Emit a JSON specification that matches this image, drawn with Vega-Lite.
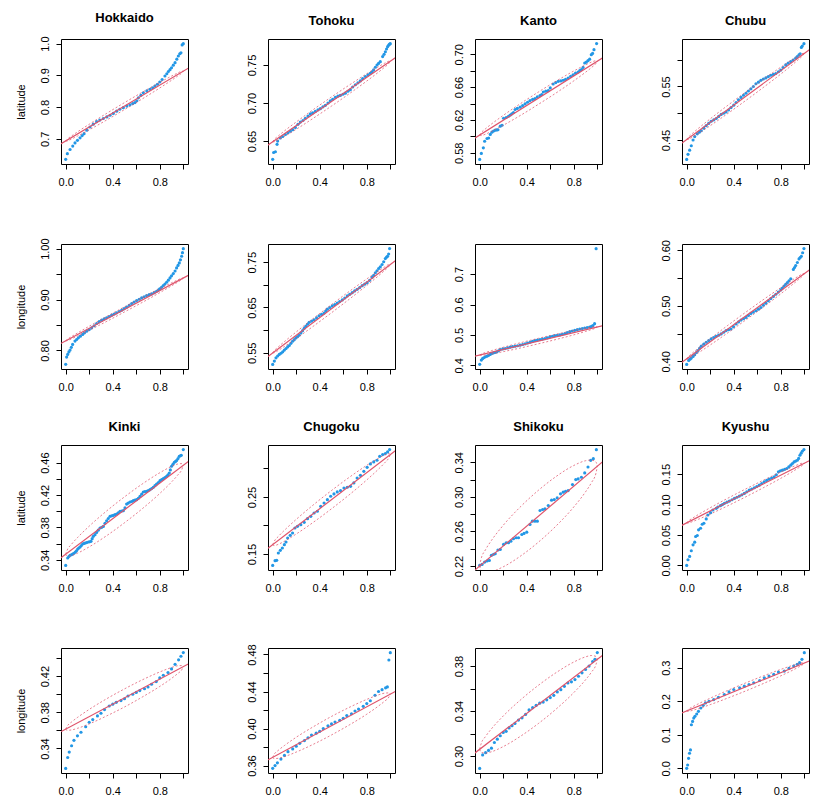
{
"$schema":"https://vega.github.io/schema/vega-lite/v6.json",
"padding":{"left":14,"top":11,"right":5,"bottom":5},
"spacing":27,
"datasets":{
"fit":[
{"g":1,"p":-0.05,"v":0.682,"p2":1.05,"v2":0.924},
{"g":2,"p":-0.05,"v":0.6439,"p2":1.05,"v2":0.7601},
{"g":3,"p":-0.05,"v":0.597,"p2":1.05,"v2":0.6961},
{"g":4,"p":-0.05,"v":0.4429,"p2":1.05,"v2":0.6198},
{"g":5,"p":-0.05,"v":0.8127,"p2":1.05,"v2":0.9484},
{"g":6,"p":-0.05,"v":0.5401,"p2":1.05,"v2":0.7547},
{"g":7,"p":-0.05,"v":0.4292,"p2":1.05,"v2":0.5307},
{"g":8,"p":-0.05,"v":0.3968,"p2":1.05,"v2":0.5656},
{"g":9,"p":-0.05,"v":0.3412,"p2":1.05,"v2":0.4622},
{"g":10,"p":-0.05,"v":0.1584,"p2":1.05,"v2":0.3322},
{"g":11,"p":-0.05,"v":0.2143,"p2":1.05,"v2":0.3411},
{"g":12,"p":-0.05,"v":0.0651,"p2":1.05,"v2":0.1729},
{"g":13,"p":-0.05,"v":0.3579,"p2":1.05,"v2":0.4339},
{"g":14,"p":-0.05,"v":0.3655,"p2":1.05,"v2":0.4406},
{"g":15,"p":-0.05,"v":0.302,"p2":1.05,"v2":0.39},
{"g":16,"p":-0.05,"v":0.1638,"p2":1.05,"v2":0.3212}
],
"band":[
{"g":1,"p":0,"lo":0.693,"hi":0.693},{"g":1,"p":0.01,"lo":0.693,"hi":0.6974},{"g":1,"p":0.05,"lo":0.6992,"hi":0.7088},{"g":1,"p":0.1,"lo":0.7084,"hi":0.7216},{"g":1,"p":0.2,"lo":0.7282,"hi":0.7458},{"g":1,"p":0.35,"lo":0.7595,"hi":0.7805},{"g":1,"p":0.5,"lo":0.792,"hi":0.814},{"g":1,"p":0.65,"lo":0.8255,"hi":0.8465},{"g":1,"p":0.8,"lo":0.8602,"hi":0.8778},{"g":1,"p":0.9,"lo":0.8844,"hi":0.8976},{"g":1,"p":0.95,"lo":0.8972,"hi":0.9068},{"g":1,"p":0.99,"lo":0.9086,"hi":0.913},{"g":1,"p":1,"lo":0.913,"hi":0.913},
{"g":2,"p":0,"lo":0.6492,"hi":0.6492},{"g":2,"p":0.01,"lo":0.6491,"hi":0.6515},{"g":2,"p":0.05,"lo":0.6519,"hi":0.6571},{"g":2,"p":0.1,"lo":0.6562,"hi":0.6634},{"g":2,"p":0.2,"lo":0.6655,"hi":0.6751},{"g":2,"p":0.35,"lo":0.6805,"hi":0.6919},{"g":2,"p":0.5,"lo":0.696,"hi":0.708},{"g":2,"p":0.65,"lo":0.7121,"hi":0.7235},{"g":2,"p":0.8,"lo":0.7289,"hi":0.7385},{"g":2,"p":0.9,"lo":0.7406,"hi":0.7478},{"g":2,"p":0.95,"lo":0.7469,"hi":0.7521},{"g":2,"p":0.99,"lo":0.7525,"hi":0.7549},{"g":2,"p":1,"lo":0.7548,"hi":0.7548},
{"g":3,"p":0,"lo":0.6015,"hi":0.6015},{"g":3,"p":0.01,"lo":0.6009,"hi":0.6039},{"g":3,"p":0.05,"lo":0.6027,"hi":0.6093},{"g":3,"p":0.1,"lo":0.606,"hi":0.615},{"g":3,"p":0.2,"lo":0.6135,"hi":0.6255},{"g":3,"p":0.35,"lo":0.6258,"hi":0.6402},{"g":3,"p":0.5,"lo":0.6391,"hi":0.6541},{"g":3,"p":0.65,"lo":0.6529,"hi":0.6673},{"g":3,"p":0.8,"lo":0.6676,"hi":0.6796},{"g":3,"p":0.9,"lo":0.6781,"hi":0.6871},{"g":3,"p":0.95,"lo":0.6838,"hi":0.6904},{"g":3,"p":0.99,"lo":0.6892,"hi":0.6922},{"g":3,"p":1,"lo":0.6916,"hi":0.6916},
{"g":4,"p":0,"lo":0.4509,"hi":0.4509},{"g":4,"p":0.01,"lo":0.4509,"hi":0.4541},{"g":4,"p":0.05,"lo":0.4555,"hi":0.4625},{"g":4,"p":0.1,"lo":0.4622,"hi":0.4718},{"g":4,"p":0.2,"lo":0.4767,"hi":0.4895},{"g":4,"p":0.35,"lo":0.4996,"hi":0.5148},{"g":4,"p":0.5,"lo":0.5234,"hi":0.5394},{"g":4,"p":0.65,"lo":0.5479,"hi":0.5631},{"g":4,"p":0.8,"lo":0.5732,"hi":0.586},{"g":4,"p":0.9,"lo":0.5909,"hi":0.6005},{"g":4,"p":0.95,"lo":0.6003,"hi":0.6073},{"g":4,"p":0.99,"lo":0.6086,"hi":0.6118},{"g":4,"p":1,"lo":0.6118,"hi":0.6118},
{"g":5,"p":0,"lo":0.8189,"hi":0.8189},{"g":5,"p":0.01,"lo":0.8191,"hi":0.8211},{"g":5,"p":0.05,"lo":0.8229,"hi":0.8273},{"g":5,"p":0.1,"lo":0.8282,"hi":0.8342},{"g":5,"p":0.2,"lo":0.8396,"hi":0.8476},{"g":5,"p":0.35,"lo":0.8572,"hi":0.8668},{"g":5,"p":0.5,"lo":0.8756,"hi":0.8856},{"g":5,"p":0.65,"lo":0.8942,"hi":0.9038},{"g":5,"p":0.8,"lo":0.9135,"hi":0.9215},{"g":5,"p":0.9,"lo":0.9269,"hi":0.9329},{"g":5,"p":0.95,"lo":0.9338,"hi":0.9382},{"g":5,"p":0.99,"lo":0.94,"hi":0.942},{"g":5,"p":1,"lo":0.9422,"hi":0.9422},
{"g":6,"p":0,"lo":0.5499,"hi":0.5499},{"g":6,"p":0.01,"lo":0.5501,"hi":0.5537},{"g":6,"p":0.05,"lo":0.5558,"hi":0.5636},{"g":6,"p":0.1,"lo":0.564,"hi":0.5748},{"g":6,"p":0.2,"lo":0.5817,"hi":0.5961},{"g":6,"p":0.35,"lo":0.6096,"hi":0.6268},{"g":6,"p":0.5,"lo":0.6384,"hi":0.6564},{"g":6,"p":0.65,"lo":0.6681,"hi":0.6853},{"g":6,"p":0.8,"lo":0.6987,"hi":0.7131},{"g":6,"p":0.9,"lo":0.72,"hi":0.7308},{"g":6,"p":0.95,"lo":0.7313,"hi":0.7391},{"g":6,"p":0.99,"lo":0.7412,"hi":0.7448},{"g":6,"p":1,"lo":0.7449,"hi":0.7449},
{"g":7,"p":0,"lo":0.4338,"hi":0.4338},{"g":7,"p":0.01,"lo":0.4329,"hi":0.4365},{"g":7,"p":0.05,"lo":0.4345,"hi":0.4423},{"g":7,"p":0.1,"lo":0.4376,"hi":0.4484},{"g":7,"p":0.2,"lo":0.4451,"hi":0.4595},{"g":7,"p":0.35,"lo":0.4575,"hi":0.4747},{"g":7,"p":0.5,"lo":0.471,"hi":0.489},{"g":7,"p":0.65,"lo":0.4852,"hi":0.5024},{"g":7,"p":0.8,"lo":0.5004,"hi":0.5148},{"g":7,"p":0.9,"lo":0.5115,"hi":0.5223},{"g":7,"p":0.95,"lo":0.5176,"hi":0.5254},{"g":7,"p":0.99,"lo":0.5234,"hi":0.527},{"g":7,"p":1,"lo":0.5261,"hi":0.5261},
{"g":8,"p":0,"lo":0.4045,"hi":0.4045},{"g":8,"p":0.01,"lo":0.4046,"hi":0.4074},{"g":8,"p":0.05,"lo":0.4091,"hi":0.4153},{"g":8,"p":0.1,"lo":0.4156,"hi":0.424},{"g":8,"p":0.2,"lo":0.4296,"hi":0.4408},{"g":8,"p":0.35,"lo":0.4515,"hi":0.4649},{"g":8,"p":0.5,"lo":0.4742,"hi":0.4882},{"g":8,"p":0.65,"lo":0.4975,"hi":0.5109},{"g":8,"p":0.8,"lo":0.5216,"hi":0.5328},{"g":8,"p":0.9,"lo":0.5384,"hi":0.5468},{"g":8,"p":0.95,"lo":0.5471,"hi":0.5533},{"g":8,"p":0.99,"lo":0.555,"hi":0.5578},{"g":8,"p":1,"lo":0.5579,"hi":0.5579},
{"g":9,"p":0,"lo":0.3467,"hi":0.3467},{"g":9,"p":0.01,"lo":0.3446,"hi":0.351},{"g":9,"p":0.05,"lo":0.3452,"hi":0.3592},{"g":9,"p":0.1,"lo":0.3481,"hi":0.3673},{"g":9,"p":0.2,"lo":0.3559,"hi":0.3815},{"g":9,"p":0.35,"lo":0.3699,"hi":0.4005},{"g":9,"p":0.5,"lo":0.3857,"hi":0.4177},{"g":9,"p":0.65,"lo":0.4029,"hi":0.4335},{"g":9,"p":0.8,"lo":0.4219,"hi":0.4475},{"g":9,"p":0.9,"lo":0.4361,"hi":0.4553},{"g":9,"p":0.95,"lo":0.4442,"hi":0.4582},{"g":9,"p":0.99,"lo":0.4524,"hi":0.4588},{"g":9,"p":1,"lo":0.4567,"hi":0.4567},
{"g":10,"p":0,"lo":0.1663,"hi":0.1663},{"g":10,"p":0.01,"lo":0.1647,"hi":0.1711},{"g":10,"p":0.05,"lo":0.1672,"hi":0.1812},{"g":10,"p":0.1,"lo":0.1725,"hi":0.1917},{"g":10,"p":0.2,"lo":0.1851,"hi":0.2107},{"g":10,"p":0.35,"lo":0.2063,"hi":0.2369},{"g":10,"p":0.5,"lo":0.2293,"hi":0.2613},{"g":10,"p":0.65,"lo":0.2537,"hi":0.2843},{"g":10,"p":0.8,"lo":0.2799,"hi":0.3055},{"g":10,"p":0.9,"lo":0.2989,"hi":0.3181},{"g":10,"p":0.95,"lo":0.3094,"hi":0.3234},{"g":10,"p":0.99,"lo":0.3195,"hi":0.3259},{"g":10,"p":1,"lo":0.3243,"hi":0.3243},
{"g":11,"p":0,"lo":0.2201,"hi":0.2201},{"g":11,"p":0.01,"lo":0.2153,"hi":0.2273},{"g":11,"p":0.05,"lo":0.2128,"hi":0.239},{"g":11,"p":0.1,"lo":0.2136,"hi":0.2496},{"g":11,"p":0.2,"lo":0.2191,"hi":0.2671},{"g":11,"p":0.35,"lo":0.2318,"hi":0.289},{"g":11,"p":0.5,"lo":0.2477,"hi":0.3077},{"g":11,"p":0.65,"lo":0.2664,"hi":0.3236},{"g":11,"p":0.8,"lo":0.2883,"hi":0.3363},{"g":11,"p":0.9,"lo":0.3058,"hi":0.3418},{"g":11,"p":0.95,"lo":0.3164,"hi":0.3426},{"g":11,"p":0.99,"lo":0.3281,"hi":0.3401},{"g":11,"p":1,"lo":0.3353,"hi":0.3353},
{"g":12,"p":0,"lo":0.07,"hi":0.07},{"g":12,"p":0.01,"lo":0.0697,"hi":0.0723},{"g":12,"p":0.05,"lo":0.0721,"hi":0.0777},{"g":12,"p":0.1,"lo":0.0759,"hi":0.0837},{"g":12,"p":0.2,"lo":0.0844,"hi":0.0948},{"g":12,"p":0.35,"lo":0.0981,"hi":0.1105},{"g":12,"p":0.5,"lo":0.1125,"hi":0.1255},{"g":12,"p":0.65,"lo":0.1275,"hi":0.1399},{"g":12,"p":0.8,"lo":0.1432,"hi":0.1536},{"g":12,"p":0.9,"lo":0.1543,"hi":0.1621},{"g":12,"p":0.95,"lo":0.1603,"hi":0.1659},{"g":12,"p":0.99,"lo":0.1657,"hi":0.1683},{"g":12,"p":1,"lo":0.168,"hi":0.168},
{"g":13,"p":0,"lo":0.3614,"hi":0.3614},{"g":13,"p":0.01,"lo":0.3601,"hi":0.3641},{"g":13,"p":0.05,"lo":0.3605,"hi":0.3693},{"g":13,"p":0.1,"lo":0.3623,"hi":0.3743},{"g":13,"p":0.2,"lo":0.3672,"hi":0.3832},{"g":13,"p":0.35,"lo":0.3761,"hi":0.3951},{"g":13,"p":0.5,"lo":0.3859,"hi":0.4059},{"g":13,"p":0.65,"lo":0.3968,"hi":0.4158},{"g":13,"p":0.8,"lo":0.4086,"hi":0.4246},{"g":13,"p":0.9,"lo":0.4175,"hi":0.4295},{"g":13,"p":0.95,"lo":0.4226,"hi":0.4314},{"g":13,"p":0.99,"lo":0.4277,"hi":0.4317},{"g":13,"p":1,"lo":0.4304,"hi":0.4304},
{"g":14,"p":0,"lo":0.3689,"hi":0.3689},{"g":14,"p":0.01,"lo":0.3676,"hi":0.3716},{"g":14,"p":0.05,"lo":0.3679,"hi":0.3767},{"g":14,"p":0.1,"lo":0.3697,"hi":0.3817},{"g":14,"p":0.2,"lo":0.3746,"hi":0.3906},{"g":14,"p":0.35,"lo":0.3833,"hi":0.4023},{"g":14,"p":0.5,"lo":0.3931,"hi":0.4131},{"g":14,"p":0.65,"lo":0.4038,"hi":0.4228},{"g":14,"p":0.8,"lo":0.4155,"hi":0.4315},{"g":14,"p":0.9,"lo":0.4244,"hi":0.4364},{"g":14,"p":0.95,"lo":0.4294,"hi":0.4382},{"g":14,"p":0.99,"lo":0.4345,"hi":0.4385},{"g":14,"p":1,"lo":0.4372,"hi":0.4372},
{"g":15,"p":0,"lo":0.306,"hi":0.306},{"g":15,"p":0.01,"lo":0.3034,"hi":0.3102},{"g":15,"p":0.05,"lo":0.3026,"hi":0.3174},{"g":15,"p":0.1,"lo":0.3038,"hi":0.3242},{"g":15,"p":0.2,"lo":0.3084,"hi":0.3356},{"g":15,"p":0.35,"lo":0.3178,"hi":0.3502},{"g":15,"p":0.5,"lo":0.329,"hi":0.363},{"g":15,"p":0.65,"lo":0.3418,"hi":0.3742},{"g":15,"p":0.8,"lo":0.3564,"hi":0.3836},{"g":15,"p":0.9,"lo":0.3678,"hi":0.3882},{"g":15,"p":0.95,"lo":0.3746,"hi":0.3894},{"g":15,"p":0.99,"lo":0.3818,"hi":0.3886},{"g":15,"p":1,"lo":0.386,"hi":0.386},
{"g":16,"p":0,"lo":0.171,"hi":0.171},{"g":16,"p":0.01,"lo":0.17,"hi":0.1748},{"g":16,"p":0.05,"lo":0.173,"hi":0.1834},{"g":16,"p":0.1,"lo":0.1781,"hi":0.1925},{"g":16,"p":0.2,"lo":0.19,"hi":0.2092},{"g":16,"p":0.35,"lo":0.2097,"hi":0.2325},{"g":16,"p":0.5,"lo":0.2305,"hi":0.2545},{"g":16,"p":0.65,"lo":0.2526,"hi":0.2754},{"g":16,"p":0.8,"lo":0.2758,"hi":0.295},{"g":16,"p":0.9,"lo":0.2925,"hi":0.3069},{"g":16,"p":0.95,"lo":0.3017,"hi":0.3121},{"g":16,"p":0.99,"lo":0.3102,"hi":0.315},{"g":16,"p":1,"lo":0.314,"hi":0.314}
],
"pts":[
{"g":1,"p":0,"v":0.635},{"g":1,"p":0.014,"v":0.653},{"g":1,"p":0.037,"v":0.666},{"g":1,"p":0.06,"v":0.677},{"g":1,"p":0.079,"v":0.687},{"g":1,"p":0.1,"v":0.695},{"g":1,"p":0.122,"v":0.703},{"g":1,"p":0.14,"v":0.71},{"g":1,"p":0.156,"v":0.716},{"g":1,"p":0.18,"v":0.727},{"g":1,"p":0.207,"v":0.737},{"g":1,"p":0.235,"v":0.746},{"g":1,"p":0.263,"v":0.754},{"g":1,"p":0.29,"v":0.759},{"g":1,"p":0.32,"v":0.764},{"g":1,"p":0.35,"v":0.769},{"g":1,"p":0.377,"v":0.774},{"g":1,"p":0.405,"v":0.78},{"g":1,"p":0.433,"v":0.787},{"g":1,"p":0.46,"v":0.793},{"g":1,"p":0.49,"v":0.798},{"g":1,"p":0.52,"v":0.803},{"g":1,"p":0.547,"v":0.807},{"g":1,"p":0.57,"v":0.811},{"g":1,"p":0.589,"v":0.814},{"g":1,"p":0.605,"v":0.82},{"g":1,"p":0.618,"v":0.829},{"g":1,"p":0.64,"v":0.837},{"g":1,"p":0.66,"v":0.845},{"g":1,"p":0.69,"v":0.851},{"g":1,"p":0.717,"v":0.856},{"g":1,"p":0.74,"v":0.861},{"g":1,"p":0.759,"v":0.866},{"g":1,"p":0.78,"v":0.872},{"g":1,"p":0.8,"v":0.879},{"g":1,"p":0.82,"v":0.887},{"g":1,"p":0.844,"v":0.898},{"g":1,"p":0.86,"v":0.905},{"g":1,"p":0.873,"v":0.912},{"g":1,"p":0.887,"v":0.918},{"g":1,"p":0.9,"v":0.924},{"g":1,"p":0.915,"v":0.932},{"g":1,"p":0.93,"v":0.94},{"g":1,"p":0.945,"v":0.951},{"g":1,"p":0.958,"v":0.961},{"g":1,"p":0.97,"v":0.968},{"g":1,"p":0.98,"v":0.971},{"g":1,"p":0.99,"v":0.996},{"g":1,"p":1,"v":1.0},
{"g":2,"p":0,"v":0.626},{"g":2,"p":0.008,"v":0.635},{"g":2,"p":0.023,"v":0.636},{"g":2,"p":0.037,"v":0.6457},{"g":2,"p":0.042,"v":0.65},{"g":2,"p":0.065,"v":0.654},{"g":2,"p":0.085,"v":0.656},{"g":2,"p":0.108,"v":0.6587},{"g":2,"p":0.13,"v":0.661},{"g":2,"p":0.15,"v":0.663},{"g":2,"p":0.17,"v":0.665},{"g":2,"p":0.193,"v":0.668},{"g":2,"p":0.215,"v":0.672},{"g":2,"p":0.235,"v":0.675},{"g":2,"p":0.257,"v":0.677},{"g":2,"p":0.278,"v":0.68},{"g":2,"p":0.3,"v":0.683},{"g":2,"p":0.32,"v":0.6857},{"g":2,"p":0.34,"v":0.687},{"g":2,"p":0.363,"v":0.689},{"g":2,"p":0.385,"v":0.691},{"g":2,"p":0.405,"v":0.6926},{"g":2,"p":0.427,"v":0.695},{"g":2,"p":0.448,"v":0.697},{"g":2,"p":0.47,"v":0.7},{"g":2,"p":0.49,"v":0.703},{"g":2,"p":0.51,"v":0.705},{"g":2,"p":0.533,"v":0.7074},{"g":2,"p":0.555,"v":0.709},{"g":2,"p":0.575,"v":0.71},{"g":2,"p":0.597,"v":0.7115},{"g":2,"p":0.618,"v":0.713},{"g":2,"p":0.64,"v":0.7155},{"g":2,"p":0.66,"v":0.7174},{"g":2,"p":0.68,"v":0.721},{"g":2,"p":0.703,"v":0.724},{"g":2,"p":0.725,"v":0.7265},{"g":2,"p":0.745,"v":0.729},{"g":2,"p":0.765,"v":0.732},{"g":2,"p":0.788,"v":0.7348},{"g":2,"p":0.81,"v":0.737},{"g":2,"p":0.83,"v":0.739},{"g":2,"p":0.845,"v":0.741},{"g":2,"p":0.858,"v":0.7435},{"g":2,"p":0.873,"v":0.747},{"g":2,"p":0.887,"v":0.75},{"g":2,"p":0.9,"v":0.752},{"g":2,"p":0.915,"v":0.7543},{"g":2,"p":0.935,"v":0.761},{"g":2,"p":0.947,"v":0.764},{"g":2,"p":0.958,"v":0.7674},{"g":2,"p":0.968,"v":0.771},{"g":2,"p":0.977,"v":0.774},{"g":2,"p":0.986,"v":0.776},{"g":2,"p":0.994,"v":0.7774},{"g":2,"p":1,"v":0.778},
{"g":3,"p":0,"v":0.5719},{"g":3,"p":0.014,"v":0.5792},{"g":3,"p":0.031,"v":0.586},{"g":3,"p":0.042,"v":0.594},{"g":3,"p":0.062,"v":0.5974},{"g":3,"p":0.076,"v":0.598},{"g":3,"p":0.09,"v":0.6023},{"g":3,"p":0.104,"v":0.6051},{"g":3,"p":0.118,"v":0.6065},{"g":3,"p":0.132,"v":0.6075},{"g":3,"p":0.145,"v":0.6078},{"g":3,"p":0.155,"v":0.608},{"g":3,"p":0.175,"v":0.6124},{"g":3,"p":0.19,"v":0.6135},{"g":3,"p":0.203,"v":0.622},{"g":3,"p":0.225,"v":0.623},{"g":3,"p":0.245,"v":0.6245},{"g":3,"p":0.26,"v":0.626},{"g":3,"p":0.273,"v":0.6274},{"g":3,"p":0.287,"v":0.629},{"g":3,"p":0.301,"v":0.6327},{"g":3,"p":0.32,"v":0.634},{"g":3,"p":0.344,"v":0.6355},{"g":3,"p":0.365,"v":0.6375},{"g":3,"p":0.386,"v":0.6395},{"g":3,"p":0.407,"v":0.6415},{"g":3,"p":0.428,"v":0.6436},{"g":3,"p":0.45,"v":0.645},{"g":3,"p":0.47,"v":0.646},{"g":3,"p":0.49,"v":0.648},{"g":3,"p":0.513,"v":0.6497},{"g":3,"p":0.527,"v":0.651},{"g":3,"p":0.541,"v":0.654},{"g":3,"p":0.562,"v":0.655},{"g":3,"p":0.583,"v":0.6557},{"g":3,"p":0.6,"v":0.659},{"g":3,"p":0.625,"v":0.6638},{"g":3,"p":0.647,"v":0.6655},{"g":3,"p":0.668,"v":0.667},{"g":3,"p":0.69,"v":0.6675},{"g":3,"p":0.71,"v":0.6683},{"g":3,"p":0.73,"v":0.6695},{"g":3,"p":0.752,"v":0.671},{"g":3,"p":0.773,"v":0.673},{"g":3,"p":0.794,"v":0.675},{"g":3,"p":0.815,"v":0.677},{"g":3,"p":0.837,"v":0.6784},{"g":3,"p":0.851,"v":0.68},{"g":3,"p":0.865,"v":0.6813},{"g":3,"p":0.879,"v":0.684},{"g":3,"p":0.893,"v":0.6894},{"g":3,"p":0.907,"v":0.6905},{"g":3,"p":0.921,"v":0.6922},{"g":3,"p":0.935,"v":0.694},{"g":3,"p":0.949,"v":0.6995},{"g":3,"p":0.96,"v":0.701},{"g":3,"p":0.972,"v":0.7056},{"g":3,"p":0.994,"v":0.713},
{"g":4,"p":0,"v":0.4137},{"g":4,"p":0.011,"v":0.4232},{"g":4,"p":0.025,"v":0.4309},{"g":4,"p":0.039,"v":0.4392},{"g":4,"p":0.054,"v":0.45},{"g":4,"p":0.068,"v":0.4564},{"g":4,"p":0.09,"v":0.4615},{"g":4,"p":0.107,"v":0.4645},{"g":4,"p":0.124,"v":0.4672},{"g":4,"p":0.145,"v":0.472},{"g":4,"p":0.166,"v":0.4768},{"g":4,"p":0.187,"v":0.481},{"g":4,"p":0.208,"v":0.485},{"g":4,"p":0.23,"v":0.4875},{"g":4,"p":0.251,"v":0.4901},{"g":4,"p":0.272,"v":0.494},{"g":4,"p":0.293,"v":0.4978},{"g":4,"p":0.314,"v":0.5},{"g":4,"p":0.335,"v":0.5022},{"g":4,"p":0.356,"v":0.506},{"g":4,"p":0.377,"v":0.5105},{"g":4,"p":0.4,"v":0.515},{"g":4,"p":0.42,"v":0.5201},{"g":4,"p":0.44,"v":0.525},{"g":4,"p":0.462,"v":0.5296},{"g":4,"p":0.483,"v":0.5335},{"g":4,"p":0.504,"v":0.5373},{"g":4,"p":0.525,"v":0.5415},{"g":4,"p":0.546,"v":0.5455},{"g":4,"p":0.567,"v":0.55},{"g":4,"p":0.589,"v":0.5551},{"g":4,"p":0.61,"v":0.558},{"g":4,"p":0.631,"v":0.5615},{"g":4,"p":0.652,"v":0.564},{"g":4,"p":0.673,"v":0.5659},{"g":4,"p":0.694,"v":0.5685},{"g":4,"p":0.715,"v":0.571},{"g":4,"p":0.737,"v":0.5725},{"g":4,"p":0.758,"v":0.5742},{"g":4,"p":0.78,"v":0.5775},{"g":4,"p":0.8,"v":0.5806},{"g":4,"p":0.82,"v":0.5855},{"g":4,"p":0.842,"v":0.5902},{"g":4,"p":0.863,"v":0.5935},{"g":4,"p":0.885,"v":0.5965},{"g":4,"p":0.905,"v":0.5995},{"g":4,"p":0.927,"v":0.6029},{"g":4,"p":0.94,"v":0.606},{"g":4,"p":0.955,"v":0.6093},{"g":4,"p":0.965,"v":0.611},{"g":4,"p":0.975,"v":0.623},{"g":4,"p":0.983,"v":0.6255},{"g":4,"p":0.997,"v":0.63},
{"g":5,"p":0,"v":0.7726},{"g":5,"p":0.008,"v":0.7869},{"g":5,"p":0.017,"v":0.7922},{"g":5,"p":0.027,"v":0.797},{"g":5,"p":0.037,"v":0.8007},{"g":5,"p":0.048,"v":0.806},{"g":5,"p":0.059,"v":0.8118},{"g":5,"p":0.079,"v":0.8183},{"g":5,"p":0.093,"v":0.8215},{"g":5,"p":0.108,"v":0.8248},{"g":5,"p":0.125,"v":0.828},{"g":5,"p":0.144,"v":0.8314},{"g":5,"p":0.16,"v":0.8345},{"g":5,"p":0.178,"v":0.8379},{"g":5,"p":0.2,"v":0.841},{"g":5,"p":0.221,"v":0.8444},{"g":5,"p":0.242,"v":0.8485},{"g":5,"p":0.263,"v":0.8529},{"g":5,"p":0.285,"v":0.8565},{"g":5,"p":0.306,"v":0.8595},{"g":5,"p":0.327,"v":0.862},{"g":5,"p":0.348,"v":0.8641},{"g":5,"p":0.37,"v":0.8665},{"g":5,"p":0.391,"v":0.8693},{"g":5,"p":0.412,"v":0.8715},{"g":5,"p":0.433,"v":0.8739},{"g":5,"p":0.455,"v":0.8765},{"g":5,"p":0.476,"v":0.8791},{"g":5,"p":0.497,"v":0.882},{"g":5,"p":0.518,"v":0.885},{"g":5,"p":0.54,"v":0.8885},{"g":5,"p":0.561,"v":0.8922},{"g":5,"p":0.582,"v":0.895},{"g":5,"p":0.603,"v":0.898},{"g":5,"p":0.625,"v":0.9005},{"g":5,"p":0.646,"v":0.9033},{"g":5,"p":0.667,"v":0.9055},{"g":5,"p":0.688,"v":0.9078},{"g":5,"p":0.71,"v":0.9095},{"g":5,"p":0.731,"v":0.9111},{"g":5,"p":0.752,"v":0.9135},{"g":5,"p":0.773,"v":0.9163},{"g":5,"p":0.79,"v":0.919},{"g":5,"p":0.8,"v":0.9209},{"g":5,"p":0.815,"v":0.924},{"g":5,"p":0.83,"v":0.9275},{"g":5,"p":0.844,"v":0.9305},{"g":5,"p":0.858,"v":0.934},{"g":5,"p":0.873,"v":0.938},{"g":5,"p":0.887,"v":0.9425},{"g":5,"p":0.9,"v":0.9465},{"g":5,"p":0.915,"v":0.951},{"g":5,"p":0.93,"v":0.956},{"g":5,"p":0.943,"v":0.9621},{"g":5,"p":0.955,"v":0.967},{"g":5,"p":0.966,"v":0.9719},{"g":5,"p":0.976,"v":0.978},{"g":5,"p":0.986,"v":0.985},{"g":5,"p":0.993,"v":0.992},{"g":5,"p":1,"v":1.0},
{"g":6,"p":0,"v":0.5245},{"g":6,"p":0.014,"v":0.5318},{"g":6,"p":0.028,"v":0.539},{"g":6,"p":0.042,"v":0.543},{"g":6,"p":0.056,"v":0.5464},{"g":6,"p":0.07,"v":0.549},{"g":6,"p":0.085,"v":0.5522},{"g":6,"p":0.099,"v":0.556},{"g":6,"p":0.113,"v":0.5595},{"g":6,"p":0.127,"v":0.563},{"g":6,"p":0.141,"v":0.5661},{"g":6,"p":0.155,"v":0.571},{"g":6,"p":0.169,"v":0.5755},{"g":6,"p":0.183,"v":0.579},{"g":6,"p":0.197,"v":0.5828},{"g":6,"p":0.211,"v":0.5855},{"g":6,"p":0.225,"v":0.5887},{"g":6,"p":0.24,"v":0.594},{"g":6,"p":0.254,"v":0.5989},{"g":6,"p":0.268,"v":0.604},{"g":6,"p":0.282,"v":0.6084},{"g":6,"p":0.296,"v":0.613},{"g":6,"p":0.31,"v":0.6172},{"g":6,"p":0.331,"v":0.62},{"g":6,"p":0.352,"v":0.623},{"g":6,"p":0.373,"v":0.627},{"g":6,"p":0.394,"v":0.6318},{"g":6,"p":0.415,"v":0.635},{"g":6,"p":0.437,"v":0.6376},{"g":6,"p":0.451,"v":0.642},{"g":6,"p":0.465,"v":0.6464},{"g":6,"p":0.486,"v":0.65},{"g":6,"p":0.507,"v":0.6536},{"g":6,"p":0.528,"v":0.6565},{"g":6,"p":0.549,"v":0.6595},{"g":6,"p":0.57,"v":0.663},{"g":6,"p":0.592,"v":0.6668},{"g":6,"p":0.613,"v":0.671},{"g":6,"p":0.634,"v":0.6755},{"g":6,"p":0.655,"v":0.679},{"g":6,"p":0.676,"v":0.6828},{"g":6,"p":0.697,"v":0.6865},{"g":6,"p":0.718,"v":0.6901},{"g":6,"p":0.74,"v":0.694},{"g":6,"p":0.761,"v":0.6982},{"g":6,"p":0.782,"v":0.7015},{"g":6,"p":0.803,"v":0.7047},{"g":6,"p":0.824,"v":0.71},{"g":6,"p":0.845,"v":0.7164},{"g":6,"p":0.859,"v":0.721},{"g":6,"p":0.873,"v":0.7266},{"g":6,"p":0.887,"v":0.731},{"g":6,"p":0.901,"v":0.7361},{"g":6,"p":0.915,"v":0.74},{"g":6,"p":0.93,"v":0.7449},{"g":6,"p":0.944,"v":0.751},{"g":6,"p":0.958,"v":0.758},{"g":6,"p":0.968,"v":0.761},{"g":6,"p":0.977,"v":0.7631},{"g":6,"p":0.986,"v":0.768},{"g":6,"p":0.994,"v":0.7799},
{"g":7,"p":0,"v":0.4033},{"g":7,"p":0.014,"v":0.4174},{"g":7,"p":0.024,"v":0.422},{"g":7,"p":0.034,"v":0.425},{"g":7,"p":0.048,"v":0.428},{"g":7,"p":0.062,"v":0.4304},{"g":7,"p":0.076,"v":0.433},{"g":7,"p":0.09,"v":0.4359},{"g":7,"p":0.104,"v":0.439},{"g":7,"p":0.118,"v":0.4413},{"g":7,"p":0.132,"v":0.443},{"g":7,"p":0.146,"v":0.4446},{"g":7,"p":0.16,"v":0.448},{"g":7,"p":0.175,"v":0.4522},{"g":7,"p":0.196,"v":0.454},{"g":7,"p":0.217,"v":0.4554},{"g":7,"p":0.238,"v":0.4575},{"g":7,"p":0.259,"v":0.4598},{"g":7,"p":0.28,"v":0.4615},{"g":7,"p":0.301,"v":0.463},{"g":7,"p":0.322,"v":0.4645},{"g":7,"p":0.344,"v":0.4663},{"g":7,"p":0.365,"v":0.4685},{"g":7,"p":0.386,"v":0.4707},{"g":7,"p":0.407,"v":0.4735},{"g":7,"p":0.428,"v":0.4761},{"g":7,"p":0.449,"v":0.479},{"g":7,"p":0.47,"v":0.4815},{"g":7,"p":0.491,"v":0.4832},{"g":7,"p":0.513,"v":0.4848},{"g":7,"p":0.534,"v":0.4865},{"g":7,"p":0.555,"v":0.488},{"g":7,"p":0.576,"v":0.4905},{"g":7,"p":0.597,"v":0.4935},{"g":7,"p":0.618,"v":0.4958},{"g":7,"p":0.639,"v":0.4978},{"g":7,"p":0.66,"v":0.499},{"g":7,"p":0.682,"v":0.5},{"g":7,"p":0.703,"v":0.502},{"g":7,"p":0.724,"v":0.5043},{"g":7,"p":0.745,"v":0.5075},{"g":7,"p":0.766,"v":0.5109},{"g":7,"p":0.787,"v":0.513},{"g":7,"p":0.808,"v":0.5152},{"g":7,"p":0.83,"v":0.5175},{"g":7,"p":0.851,"v":0.5196},{"g":7,"p":0.872,"v":0.5212},{"g":7,"p":0.893,"v":0.5228},{"g":7,"p":0.914,"v":0.5245},{"g":7,"p":0.935,"v":0.5261},{"g":7,"p":0.95,"v":0.528},{"g":7,"p":0.963,"v":0.5304},{"g":7,"p":0.977,"v":0.537},{"g":7,"p":0.99,"v":0.7837},
{"g":8,"p":0,"v":0.3946},{"g":8,"p":0.017,"v":0.4018},{"g":8,"p":0.028,"v":0.404},{"g":8,"p":0.039,"v":0.406},{"g":8,"p":0.054,"v":0.409},{"g":8,"p":0.068,"v":0.4119},{"g":8,"p":0.082,"v":0.416},{"g":8,"p":0.096,"v":0.4196},{"g":8,"p":0.11,"v":0.4235},{"g":8,"p":0.124,"v":0.4274},{"g":8,"p":0.145,"v":0.431},{"g":8,"p":0.166,"v":0.4345},{"g":8,"p":0.187,"v":0.4375},{"g":8,"p":0.208,"v":0.4405},{"g":8,"p":0.23,"v":0.443},{"g":8,"p":0.251,"v":0.4452},{"g":8,"p":0.272,"v":0.4472},{"g":8,"p":0.293,"v":0.4494},{"g":8,"p":0.314,"v":0.4525},{"g":8,"p":0.335,"v":0.4554},{"g":8,"p":0.356,"v":0.457},{"g":8,"p":0.377,"v":0.4583},{"g":8,"p":0.398,"v":0.4625},{"g":8,"p":0.42,"v":0.4673},{"g":8,"p":0.441,"v":0.471},{"g":8,"p":0.462,"v":0.4744},{"g":8,"p":0.483,"v":0.4768},{"g":8,"p":0.504,"v":0.4792},{"g":8,"p":0.525,"v":0.4828},{"g":8,"p":0.546,"v":0.4863},{"g":8,"p":0.567,"v":0.4888},{"g":8,"p":0.589,"v":0.4911},{"g":8,"p":0.61,"v":0.494},{"g":8,"p":0.631,"v":0.497},{"g":8,"p":0.652,"v":0.501},{"g":8,"p":0.673,"v":0.5048},{"g":8,"p":0.694,"v":0.509},{"g":8,"p":0.715,"v":0.5131},{"g":8,"p":0.737,"v":0.517},{"g":8,"p":0.758,"v":0.5208},{"g":8,"p":0.779,"v":0.5247},{"g":8,"p":0.8,"v":0.5286},{"g":8,"p":0.814,"v":0.532},{"g":8,"p":0.828,"v":0.5357},{"g":8,"p":0.842,"v":0.5387},{"g":8,"p":0.856,"v":0.5417},{"g":8,"p":0.87,"v":0.545},{"g":8,"p":0.885,"v":0.5488},{"g":8,"p":0.907,"v":0.5655},{"g":8,"p":0.917,"v":0.569},{"g":8,"p":0.927,"v":0.5726},{"g":8,"p":0.941,"v":0.578},{"g":8,"p":0.955,"v":0.5845},{"g":8,"p":0.965,"v":0.587},{"g":8,"p":0.975,"v":0.5893},{"g":8,"p":0.986,"v":0.5955},{"g":8,"p":0.997,"v":0.603},
{"g":9,"p":0,"v":0.333},{"g":9,"p":0.017,"v":0.3421},{"g":9,"p":0.027,"v":0.344},{"g":9,"p":0.037,"v":0.3454},{"g":9,"p":0.048,"v":0.3462},{"g":9,"p":0.059,"v":0.347},{"g":9,"p":0.07,"v":0.348},{"g":9,"p":0.082,"v":0.3495},{"g":9,"p":0.092,"v":0.351},{"g":9,"p":0.102,"v":0.3532},{"g":9,"p":0.112,"v":0.3545},{"g":9,"p":0.122,"v":0.3557},{"g":9,"p":0.133,"v":0.3575},{"g":9,"p":0.144,"v":0.3594},{"g":9,"p":0.154,"v":0.36},{"g":9,"p":0.164,"v":0.3606},{"g":9,"p":0.178,"v":0.3612},{"g":9,"p":0.193,"v":0.3619},{"g":9,"p":0.204,"v":0.3622},{"g":9,"p":0.215,"v":0.3627},{"g":9,"p":0.225,"v":0.366},{"g":9,"p":0.235,"v":0.3689},{"g":9,"p":0.249,"v":0.371},{"g":9,"p":0.263,"v":0.3738},{"g":9,"p":0.277,"v":0.3765},{"g":9,"p":0.292,"v":0.3792},{"g":9,"p":0.306,"v":0.38},{"g":9,"p":0.32,"v":0.3812},{"g":9,"p":0.334,"v":0.385},{"g":9,"p":0.348,"v":0.3882},{"g":9,"p":0.362,"v":0.391},{"g":9,"p":0.377,"v":0.3936},{"g":9,"p":0.391,"v":0.3942},{"g":9,"p":0.405,"v":0.3948},{"g":9,"p":0.419,"v":0.3957},{"g":9,"p":0.433,"v":0.3965},{"g":9,"p":0.447,"v":0.398},{"g":9,"p":0.462,"v":0.3998},{"g":9,"p":0.476,"v":0.4002},{"g":9,"p":0.49,"v":0.4006},{"g":9,"p":0.504,"v":0.404},{"g":9,"p":0.518,"v":0.4088},{"g":9,"p":0.532,"v":0.41},{"g":9,"p":0.547,"v":0.4113},{"g":9,"p":0.561,"v":0.412},{"g":9,"p":0.575,"v":0.413},{"g":9,"p":0.589,"v":0.4137},{"g":9,"p":0.603,"v":0.4142},{"g":9,"p":0.618,"v":0.416},{"g":9,"p":0.632,"v":0.4183},{"g":9,"p":0.646,"v":0.421},{"g":9,"p":0.66,"v":0.4237},{"g":9,"p":0.674,"v":0.4242},{"g":9,"p":0.688,"v":0.4245},{"g":9,"p":0.702,"v":0.4255},{"g":9,"p":0.717,"v":0.4266},{"g":9,"p":0.731,"v":0.428},{"g":9,"p":0.745,"v":0.4295},{"g":9,"p":0.759,"v":0.4315},{"g":9,"p":0.773,"v":0.4336},{"g":9,"p":0.788,"v":0.4355},{"g":9,"p":0.802,"v":0.4377},{"g":9,"p":0.816,"v":0.439},{"g":9,"p":0.83,"v":0.4402},{"g":9,"p":0.844,"v":0.4415},{"g":9,"p":0.858,"v":0.4431},{"g":9,"p":0.87,"v":0.445},{"g":9,"p":0.881,"v":0.4472},{"g":9,"p":0.89,"v":0.451},{"g":9,"p":0.9,"v":0.4555},{"g":9,"p":0.912,"v":0.458},{"g":9,"p":0.924,"v":0.4604},{"g":9,"p":0.934,"v":0.4615},{"g":9,"p":0.943,"v":0.4625},{"g":9,"p":0.955,"v":0.465},{"g":9,"p":0.966,"v":0.4678},{"g":9,"p":0.975,"v":0.4685},{"g":9,"p":0.983,"v":0.4691},{"g":9,"p":1,"v":0.4761},
{"g":10,"p":0,"v":0.1301},{"g":10,"p":0.02,"v":0.1383},{"g":10,"p":0.034,"v":0.1389},{"g":10,"p":0.048,"v":0.1518},{"g":10,"p":0.065,"v":0.1564},{"g":10,"p":0.082,"v":0.1605},{"g":10,"p":0.099,"v":0.1664},{"g":10,"p":0.113,"v":0.1711},{"g":10,"p":0.127,"v":0.1781},{"g":10,"p":0.149,"v":0.1827},{"g":10,"p":0.169,"v":0.1868},{"g":10,"p":0.189,"v":0.1956},{"g":10,"p":0.211,"v":0.1985},{"g":10,"p":0.239,"v":0.2015},{"g":10,"p":0.268,"v":0.2056},{"g":10,"p":0.296,"v":0.212},{"g":10,"p":0.324,"v":0.2161},{"g":10,"p":0.352,"v":0.2219},{"g":10,"p":0.38,"v":0.2249},{"g":10,"p":0.408,"v":0.2336},{"g":10,"p":0.437,"v":0.2395},{"g":10,"p":0.465,"v":0.2453},{"g":10,"p":0.493,"v":0.2512},{"g":10,"p":0.521,"v":0.2553},{"g":10,"p":0.549,"v":0.2588},{"g":10,"p":0.577,"v":0.2611},{"g":10,"p":0.606,"v":0.2658},{"g":10,"p":0.634,"v":0.267},{"g":10,"p":0.662,"v":0.2687},{"g":10,"p":0.69,"v":0.2746},{"g":10,"p":0.718,"v":0.2833},{"g":10,"p":0.746,"v":0.288},{"g":10,"p":0.775,"v":0.295},{"g":10,"p":0.803,"v":0.302},{"g":10,"p":0.831,"v":0.3079},{"g":10,"p":0.859,"v":0.3114},{"g":10,"p":0.887,"v":0.3143},{"g":10,"p":0.91,"v":0.3213},{"g":10,"p":0.935,"v":0.3243},{"g":10,"p":0.958,"v":0.326},{"g":10,"p":0.977,"v":0.329},{"g":10,"p":0.994,"v":0.333},
{"g":11,"p":0,"v":0.2208},{"g":11,"p":0.02,"v":0.2219},{"g":11,"p":0.042,"v":0.2246},{"g":11,"p":0.062,"v":0.2258},{"g":11,"p":0.082,"v":0.2265},{"g":11,"p":0.099,"v":0.2323},{"g":11,"p":0.118,"v":0.2335},{"g":11,"p":0.132,"v":0.2342},{"g":11,"p":0.155,"v":0.2385},{"g":11,"p":0.175,"v":0.2392},{"g":11,"p":0.203,"v":0.245},{"g":11,"p":0.225,"v":0.2469},{"g":11,"p":0.245,"v":0.2469},{"g":11,"p":0.265,"v":0.2488},{"g":11,"p":0.287,"v":0.2515},{"g":11,"p":0.31,"v":0.2527},{"g":11,"p":0.33,"v":0.2527},{"g":11,"p":0.358,"v":0.2565},{"g":11,"p":0.377,"v":0.2577},{"g":11,"p":0.4,"v":0.2592},{"g":11,"p":0.428,"v":0.2681},{"g":11,"p":0.448,"v":0.2719},{"g":11,"p":0.47,"v":0.2719},{"g":11,"p":0.49,"v":0.2719},{"g":11,"p":0.513,"v":0.2842},{"g":11,"p":0.535,"v":0.2854},{"g":11,"p":0.555,"v":0.2862},{"g":11,"p":0.583,"v":0.29},{"g":11,"p":0.611,"v":0.2962},{"g":11,"p":0.634,"v":0.2969},{"g":11,"p":0.659,"v":0.2988},{"g":11,"p":0.687,"v":0.3035},{"g":11,"p":0.71,"v":0.3054},{"g":11,"p":0.73,"v":0.3065},{"g":11,"p":0.752,"v":0.3073},{"g":11,"p":0.789,"v":0.3142},{"g":11,"p":0.817,"v":0.32},{"g":11,"p":0.837,"v":0.3208},{"g":11,"p":0.865,"v":0.3227},{"g":11,"p":0.893,"v":0.3277},{"g":11,"p":0.921,"v":0.3346},{"g":11,"p":0.944,"v":0.3423},{"g":11,"p":0.966,"v":0.3442},{"g":11,"p":0.992,"v":0.3546},
{"g":12,"p":0,"v":0},{"g":12,"p":0.011,"v":0.0093},{"g":12,"p":0.025,"v":0.0147},{"g":12,"p":0.039,"v":0.024},{"g":12,"p":0.054,"v":0.0338},{"g":12,"p":0.068,"v":0.0382},{"g":12,"p":0.076,"v":0.0475},{"g":12,"p":0.09,"v":0.0491},{"g":12,"p":0.101,"v":0.0584},{"g":12,"p":0.118,"v":0.0611},{"g":12,"p":0.132,"v":0.0676},{"g":12,"p":0.146,"v":0.0693},{"g":12,"p":0.166,"v":0.0764},{"g":12,"p":0.18,"v":0.0829},{"g":12,"p":0.203,"v":0.0867},{"g":12,"p":0.223,"v":0.0911},{"g":12,"p":0.251,"v":0.0938},{"g":12,"p":0.265,"v":0.096},{"g":12,"p":0.287,"v":0.0982},{"g":12,"p":0.304,"v":0.1},{"g":12,"p":0.321,"v":0.102},{"g":12,"p":0.342,"v":0.104},{"g":12,"p":0.363,"v":0.1058},{"g":12,"p":0.385,"v":0.108},{"g":12,"p":0.406,"v":0.1102},{"g":12,"p":0.427,"v":0.112},{"g":12,"p":0.448,"v":0.114},{"g":12,"p":0.469,"v":0.116},{"g":12,"p":0.49,"v":0.1184},{"g":12,"p":0.511,"v":0.121},{"g":12,"p":0.532,"v":0.1238},{"g":12,"p":0.553,"v":0.1257},{"g":12,"p":0.575,"v":0.1277},{"g":12,"p":0.596,"v":0.1298},{"g":12,"p":0.617,"v":0.132},{"g":12,"p":0.638,"v":0.1347},{"g":12,"p":0.659,"v":0.1375},{"g":12,"p":0.68,"v":0.1397},{"g":12,"p":0.701,"v":0.1418},{"g":12,"p":0.722,"v":0.1437},{"g":12,"p":0.744,"v":0.1457},{"g":12,"p":0.762,"v":0.149},{"g":12,"p":0.78,"v":0.1538},{"g":12,"p":0.797,"v":0.1555},{"g":12,"p":0.814,"v":0.1566},{"g":12,"p":0.833,"v":0.158},{"g":12,"p":0.851,"v":0.1593},{"g":12,"p":0.868,"v":0.162},{"g":12,"p":0.885,"v":0.1648},{"g":12,"p":0.899,"v":0.1675},{"g":12,"p":0.913,"v":0.1702},{"g":12,"p":0.927,"v":0.1715},{"g":12,"p":0.941,"v":0.1729},{"g":12,"p":0.952,"v":0.176},{"g":12,"p":0.963,"v":0.1811},{"g":12,"p":0.973,"v":0.1845},{"g":12,"p":0.983,"v":0.1877},{"g":12,"p":0.997,"v":0.1904},
{"g":13,"p":0,"v":0.318},{"g":13,"p":0.017,"v":0.33},{"g":13,"p":0.03,"v":0.336},{"g":13,"p":0.05,"v":0.343},{"g":13,"p":0.07,"v":0.349},{"g":13,"p":0.1,"v":0.354},{"g":13,"p":0.13,"v":0.358},{"g":13,"p":0.17,"v":0.364},{"g":13,"p":0.2,"v":0.369},{"g":13,"p":0.23,"v":0.372},{"g":13,"p":0.27,"v":0.376},{"g":13,"p":0.3,"v":0.379},{"g":13,"p":0.33,"v":0.383},{"g":13,"p":0.37,"v":0.387},{"g":13,"p":0.4,"v":0.389},{"g":13,"p":0.43,"v":0.391},{"g":13,"p":0.47,"v":0.393},{"g":13,"p":0.5,"v":0.395},{"g":13,"p":0.53,"v":0.398},{"g":13,"p":0.57,"v":0.4},{"g":13,"p":0.6,"v":0.402},{"g":13,"p":0.63,"v":0.404},{"g":13,"p":0.67,"v":0.406},{"g":13,"p":0.7,"v":0.408},{"g":13,"p":0.73,"v":0.411},{"g":13,"p":0.77,"v":0.414},{"g":13,"p":0.8,"v":0.418},{"g":13,"p":0.83,"v":0.421},{"g":13,"p":0.87,"v":0.424},{"g":13,"p":0.9,"v":0.428},{"g":13,"p":0.93,"v":0.433},{"g":13,"p":0.96,"v":0.438},{"g":13,"p":0.98,"v":0.442},{"g":13,"p":1,"v":0.446},
{"g":14,"p":0,"v":0.357},{"g":14,"p":0.02,"v":0.36},{"g":14,"p":0.04,"v":0.363},{"g":14,"p":0.07,"v":0.367},{"g":14,"p":0.1,"v":0.371},{"g":14,"p":0.13,"v":0.375},{"g":14,"p":0.17,"v":0.378},{"g":14,"p":0.2,"v":0.381},{"g":14,"p":0.23,"v":0.384},{"g":14,"p":0.27,"v":0.387},{"g":14,"p":0.3,"v":0.39},{"g":14,"p":0.33,"v":0.393},{"g":14,"p":0.37,"v":0.395},{"g":14,"p":0.4,"v":0.397},{"g":14,"p":0.43,"v":0.4},{"g":14,"p":0.47,"v":0.403},{"g":14,"p":0.5,"v":0.405},{"g":14,"p":0.53,"v":0.407},{"g":14,"p":0.57,"v":0.409},{"g":14,"p":0.6,"v":0.411},{"g":14,"p":0.63,"v":0.414},{"g":14,"p":0.67,"v":0.416},{"g":14,"p":0.7,"v":0.419},{"g":14,"p":0.73,"v":0.421},{"g":14,"p":0.77,"v":0.424},{"g":14,"p":0.8,"v":0.427},{"g":14,"p":0.83,"v":0.43},{"g":14,"p":0.87,"v":0.436},{"g":14,"p":0.9,"v":0.44},{"g":14,"p":0.93,"v":0.442},{"g":14,"p":0.96,"v":0.444},{"g":14,"p":0.975,"v":0.445},{"g":14,"p":0.988,"v":0.474},{"g":14,"p":1,"v":0.482},
{"g":15,"p":0,"v":0.289},{"g":15,"p":0.025,"v":0.301},{"g":15,"p":0.05,"v":0.303},{"g":15,"p":0.075,"v":0.305},{"g":15,"p":0.1,"v":0.307},{"g":15,"p":0.125,"v":0.312},{"g":15,"p":0.15,"v":0.315},{"g":15,"p":0.175,"v":0.318},{"g":15,"p":0.2,"v":0.321},{"g":15,"p":0.225,"v":0.322},{"g":15,"p":0.25,"v":0.325},{"g":15,"p":0.275,"v":0.327},{"g":15,"p":0.3,"v":0.329},{"g":15,"p":0.33,"v":0.332},{"g":15,"p":0.36,"v":0.334},{"g":15,"p":0.39,"v":0.337},{"g":15,"p":0.42,"v":0.341},{"g":15,"p":0.45,"v":0.343},{"g":15,"p":0.48,"v":0.345},{"g":15,"p":0.51,"v":0.347},{"g":15,"p":0.54,"v":0.348},{"g":15,"p":0.57,"v":0.35},{"g":15,"p":0.6,"v":0.352},{"g":15,"p":0.63,"v":0.354},{"g":15,"p":0.66,"v":0.357},{"g":15,"p":0.69,"v":0.359},{"g":15,"p":0.72,"v":0.362},{"g":15,"p":0.75,"v":0.365},{"g":15,"p":0.78,"v":0.366},{"g":15,"p":0.81,"v":0.368},{"g":15,"p":0.84,"v":0.371},{"g":15,"p":0.87,"v":0.374},{"g":15,"p":0.9,"v":0.377},{"g":15,"p":0.93,"v":0.38},{"g":15,"p":0.96,"v":0.384},{"g":15,"p":0.98,"v":0.386},{"g":15,"p":1,"v":0.392},
{"g":16,"p":0,"v":0},{"g":16,"p":0.008,"v":0.01},{"g":16,"p":0.016,"v":0.03},{"g":16,"p":0.024,"v":0.045},{"g":16,"p":0.032,"v":0.055},{"g":16,"p":0.04,"v":0.13},{"g":16,"p":0.05,"v":0.14},{"g":16,"p":0.06,"v":0.15},{"g":16,"p":0.07,"v":0.155},{"g":16,"p":0.085,"v":0.162},{"g":16,"p":0.1,"v":0.17},{"g":16,"p":0.12,"v":0.18},{"g":16,"p":0.14,"v":0.188},{"g":16,"p":0.16,"v":0.195},{"g":16,"p":0.19,"v":0.2},{"g":16,"p":0.23,"v":0.205},{"g":16,"p":0.27,"v":0.212},{"g":16,"p":0.32,"v":0.22},{"g":16,"p":0.36,"v":0.228},{"g":16,"p":0.4,"v":0.235},{"g":16,"p":0.45,"v":0.24},{"g":16,"p":0.49,"v":0.245},{"g":16,"p":0.53,"v":0.25},{"g":16,"p":0.57,"v":0.255},{"g":16,"p":0.62,"v":0.262},{"g":16,"p":0.66,"v":0.27},{"g":16,"p":0.7,"v":0.275},{"g":16,"p":0.74,"v":0.28},{"g":16,"p":0.78,"v":0.287},{"g":16,"p":0.83,"v":0.29},{"g":16,"p":0.87,"v":0.298},{"g":16,"p":0.91,"v":0.305},{"g":16,"p":0.94,"v":0.31},{"g":16,"p":0.96,"v":0.315},{"g":16,"p":0.98,"v":0.325},{"g":16,"p":1,"v":0.345}
]
},
"vconcat":[
{"spacing":49,"vconcat":[
{"spacing":56,"hconcat":[
{"width":127,"height":125,"title":"Hokkaido","encoding":{"x":{"field":"p","type":"quantitative","scale":{"domain":[-0.04,1.04],"nice":false,"zero":false},"axis":{"values":[0,0.2,0.4,0.6,0.8,1],"labelExpr":"datum.value==0||datum.value==0.4||datum.value==0.8?format(datum.value,'.1f'):''","title":null}},"y":{"field":"v","type":"quantitative","scale":{"domain":[0.6204,1.0146],"nice":false,"zero":false},"axis":{"values":[0.7,0.8,0.9,1],"labelExpr":"format(datum.value,'.1f')","title":"latitude"}}},
"layer":[{"data":{"name":"pts"},"transform":[{"filter":"datum.g==1"}],"mark":{"type":"circle","size":10,"color":"#2297E6","opacity":1}},{"data":{"name":"band"},"transform":[{"filter":"datum.g==1"},{"fold":["lo","hi"],"as":["s","v"]}],"mark":{"type":"line","clip":true,"color":"#DF536B","strokeWidth":1,"strokeDash":[2,2],"interpolate":"monotone","opacity":0.75},"encoding":{"detail":{"field":"s","type":"nominal"}}},{"data":{"name":"fit"},"transform":[{"filter":"datum.g==1"}],"mark":{"type":"rule","clip":true,"color":"#DF536B","strokeWidth":1.2},"encoding":{"x2":{"field":"p2"},"y2":{"field":"v2"}}}]},
{"width":127,"height":125,"title":"Tohoku","encoding":{"x":{"field":"p","type":"quantitative","scale":{"domain":[-0.04,1.04],"nice":false,"zero":false},"axis":{"values":[0,0.2,0.4,0.6,0.8,1],"labelExpr":"datum.value==0||datum.value==0.4||datum.value==0.8?format(datum.value,'.1f'):''","title":null}},"y":{"field":"v","type":"quantitative","scale":{"domain":[0.6199,0.7841],"nice":false,"zero":false},"axis":{"values":[0.65,0.7,0.75],"labelExpr":"format(datum.value,'.2f')","title":null}}},
"layer":[{"data":{"name":"pts"},"transform":[{"filter":"datum.g==2"}],"mark":{"type":"circle","size":10,"color":"#2297E6","opacity":1}},{"data":{"name":"band"},"transform":[{"filter":"datum.g==2"},{"fold":["lo","hi"],"as":["s","v"]}],"mark":{"type":"line","clip":true,"color":"#DF536B","strokeWidth":1,"strokeDash":[2,2],"interpolate":"monotone","opacity":0.75},"encoding":{"detail":{"field":"s","type":"nominal"}}},{"data":{"name":"fit"},"transform":[{"filter":"datum.g==2"}],"mark":{"type":"rule","clip":true,"color":"#DF536B","strokeWidth":1.2},"encoding":{"x2":{"field":"p2"},"y2":{"field":"v2"}}}]},
{"width":127,"height":125,"title":"Kanto","encoding":{"x":{"field":"p","type":"quantitative","scale":{"domain":[-0.04,1.04],"nice":false,"zero":false},"axis":{"values":[0,0.2,0.4,0.6,0.8,1],"labelExpr":"datum.value==0||datum.value==0.4||datum.value==0.8?format(datum.value,'.1f'):''","title":null}},"y":{"field":"v","type":"quantitative","scale":{"domain":[0.5663,0.7186],"nice":false,"zero":false},"axis":{"values":[0.58,0.6,0.62,0.64,0.66,0.68,0.7],"labelExpr":"indexof([0.58,0.62,0.66,0.7],datum.value)>=0?format(datum.value,'.2f'):''","title":null}}},
"layer":[{"data":{"name":"pts"},"transform":[{"filter":"datum.g==3"}],"mark":{"type":"circle","size":10,"color":"#2297E6","opacity":1}},{"data":{"name":"band"},"transform":[{"filter":"datum.g==3"},{"fold":["lo","hi"],"as":["s","v"]}],"mark":{"type":"line","clip":true,"color":"#DF536B","strokeWidth":1,"strokeDash":[2,2],"interpolate":"monotone","opacity":0.75},"encoding":{"detail":{"field":"s","type":"nominal"}}},{"data":{"name":"fit"},"transform":[{"filter":"datum.g==3"}],"mark":{"type":"rule","clip":true,"color":"#DF536B","strokeWidth":1.2},"encoding":{"x2":{"field":"p2"},"y2":{"field":"v2"}}}]},
{"width":127,"height":125,"title":"Chubu","encoding":{"x":{"field":"p","type":"quantitative","scale":{"domain":[-0.04,1.04],"nice":false,"zero":false},"axis":{"values":[0,0.2,0.4,0.6,0.8,1],"labelExpr":"datum.value==0||datum.value==0.4||datum.value==0.8?format(datum.value,'.1f'):''","title":null}},"y":{"field":"v","type":"quantitative","scale":{"domain":[0.4051,0.6387],"nice":false,"zero":false},"axis":{"values":[0.45,0.5,0.55,0.6],"labelExpr":"indexof([0.45,0.55],datum.value)>=0?format(datum.value,'.2f'):''","title":null}}},
"layer":[{"data":{"name":"pts"},"transform":[{"filter":"datum.g==4"}],"mark":{"type":"circle","size":10,"color":"#2297E6","opacity":1}},{"data":{"name":"band"},"transform":[{"filter":"datum.g==4"},{"fold":["lo","hi"],"as":["s","v"]}],"mark":{"type":"line","clip":true,"color":"#DF536B","strokeWidth":1,"strokeDash":[2,2],"interpolate":"monotone","opacity":0.75},"encoding":{"detail":{"field":"s","type":"nominal"}}},{"data":{"name":"fit"},"transform":[{"filter":"datum.g==4"}],"mark":{"type":"rule","clip":true,"color":"#DF536B","strokeWidth":1.2},"encoding":{"x2":{"field":"p2"},"y2":{"field":"v2"}}}]}
]},
{"spacing":56,"hconcat":[
{"width":127,"height":125,"encoding":{"x":{"field":"p","type":"quantitative","scale":{"domain":[-0.04,1.04],"nice":false,"zero":false},"axis":{"values":[0,0.2,0.4,0.6,0.8,1],"labelExpr":"datum.value==0||datum.value==0.4||datum.value==0.8?format(datum.value,'.1f'):''","title":null}},"y":{"field":"v","type":"quantitative","scale":{"domain":[0.7635,1.0091],"nice":false,"zero":false},"axis":{"values":[0.8,0.85,0.9,0.95,1],"labelExpr":"indexof([0.8,0.9,1],datum.value)>=0?format(datum.value,'.2f'):''","title":"longitude"}}},
"layer":[{"data":{"name":"pts"},"transform":[{"filter":"datum.g==5"}],"mark":{"type":"circle","size":10,"color":"#2297E6","opacity":1}},{"data":{"name":"band"},"transform":[{"filter":"datum.g==5"},{"fold":["lo","hi"],"as":["s","v"]}],"mark":{"type":"line","clip":true,"color":"#DF536B","strokeWidth":1,"strokeDash":[2,2],"interpolate":"monotone","opacity":0.75},"encoding":{"detail":{"field":"s","type":"nominal"}}},{"data":{"name":"fit"},"transform":[{"filter":"datum.g==5"}],"mark":{"type":"rule","clip":true,"color":"#DF536B","strokeWidth":1.2},"encoding":{"x2":{"field":"p2"},"y2":{"field":"v2"}}}]},
{"width":127,"height":125,"encoding":{"x":{"field":"p","type":"quantitative","scale":{"domain":[-0.04,1.04],"nice":false,"zero":false},"axis":{"values":[0,0.2,0.4,0.6,0.8,1],"labelExpr":"datum.value==0||datum.value==0.4||datum.value==0.8?format(datum.value,'.1f'):''","title":null}},"y":{"field":"v","type":"quantitative","scale":{"domain":[0.5143,0.7901],"nice":false,"zero":false},"axis":{"values":[0.55,0.6,0.65,0.7,0.75],"labelExpr":"indexof([0.55,0.65,0.75],datum.value)>=0?format(datum.value,'.2f'):''","title":null}}},
"layer":[{"data":{"name":"pts"},"transform":[{"filter":"datum.g==6"}],"mark":{"type":"circle","size":10,"color":"#2297E6","opacity":1}},{"data":{"name":"band"},"transform":[{"filter":"datum.g==6"},{"fold":["lo","hi"],"as":["s","v"]}],"mark":{"type":"line","clip":true,"color":"#DF536B","strokeWidth":1,"strokeDash":[2,2],"interpolate":"monotone","opacity":0.75},"encoding":{"detail":{"field":"s","type":"nominal"}}},{"data":{"name":"fit"},"transform":[{"filter":"datum.g==6"}],"mark":{"type":"rule","clip":true,"color":"#DF536B","strokeWidth":1.2},"encoding":{"x2":{"field":"p2"},"y2":{"field":"v2"}}}]},
{"width":127,"height":125,"encoding":{"x":{"field":"p","type":"quantitative","scale":{"domain":[-0.04,1.04],"nice":false,"zero":false},"axis":{"values":[0,0.2,0.4,0.6,0.8,1],"labelExpr":"datum.value==0||datum.value==0.4||datum.value==0.8?format(datum.value,'.1f'):''","title":null}},"y":{"field":"v","type":"quantitative","scale":{"domain":[0.3881,0.7989],"nice":false,"zero":false},"axis":{"values":[0.4,0.5,0.6,0.7],"labelExpr":"format(datum.value,'.1f')","title":null}}},
"layer":[{"data":{"name":"pts"},"transform":[{"filter":"datum.g==7"}],"mark":{"type":"circle","size":10,"color":"#2297E6","opacity":1}},{"data":{"name":"band"},"transform":[{"filter":"datum.g==7"},{"fold":["lo","hi"],"as":["s","v"]}],"mark":{"type":"line","clip":true,"color":"#DF536B","strokeWidth":1,"strokeDash":[2,2],"interpolate":"monotone","opacity":0.75},"encoding":{"detail":{"field":"s","type":"nominal"}}},{"data":{"name":"fit"},"transform":[{"filter":"datum.g==7"}],"mark":{"type":"rule","clip":true,"color":"#DF536B","strokeWidth":1.2},"encoding":{"x2":{"field":"p2"},"y2":{"field":"v2"}}}]},
{"width":127,"height":125,"encoding":{"x":{"field":"p","type":"quantitative","scale":{"domain":[-0.04,1.04],"nice":false,"zero":false},"axis":{"values":[0,0.2,0.4,0.6,0.8,1],"labelExpr":"datum.value==0||datum.value==0.4||datum.value==0.8?format(datum.value,'.1f'):''","title":null}},"y":{"field":"v","type":"quantitative","scale":{"domain":[0.3863,0.6113],"nice":false,"zero":false},"axis":{"values":[0.4,0.45,0.5,0.55,0.6],"labelExpr":"indexof([0.4,0.5,0.6],datum.value)>=0?format(datum.value,'.2f'):''","title":null}}},
"layer":[{"data":{"name":"pts"},"transform":[{"filter":"datum.g==8"}],"mark":{"type":"circle","size":10,"color":"#2297E6","opacity":1}},{"data":{"name":"band"},"transform":[{"filter":"datum.g==8"},{"fold":["lo","hi"],"as":["s","v"]}],"mark":{"type":"line","clip":true,"color":"#DF536B","strokeWidth":1,"strokeDash":[2,2],"interpolate":"monotone","opacity":0.75},"encoding":{"detail":{"field":"s","type":"nominal"}}},{"data":{"name":"fit"},"transform":[{"filter":"datum.g==8"}],"mark":{"type":"rule","clip":true,"color":"#DF536B","strokeWidth":1.2},"encoding":{"x2":{"field":"p2"},"y2":{"field":"v2"}}}]}
]}
]},
{"spacing":49,"vconcat":[
{"spacing":56,"hconcat":[
{"width":127,"height":125,"title":"Kinki","encoding":{"x":{"field":"p","type":"quantitative","scale":{"domain":[-0.04,1.04],"nice":false,"zero":false},"axis":{"values":[0,0.2,0.4,0.6,0.8,1],"labelExpr":"datum.value==0||datum.value==0.4||datum.value==0.8?format(datum.value,'.1f'):''","title":null}},"y":{"field":"v","type":"quantitative","scale":{"domain":[0.3273,0.4818],"nice":false,"zero":false},"axis":{"values":[0.34,0.36,0.38,0.4,0.42,0.44,0.46],"labelExpr":"indexof([0.34,0.38,0.42,0.46],datum.value)>=0?format(datum.value,'.2f'):''","title":"latitude"}}},
"layer":[{"data":{"name":"pts"},"transform":[{"filter":"datum.g==9"}],"mark":{"type":"circle","size":10,"color":"#2297E6","opacity":1}},{"data":{"name":"band"},"transform":[{"filter":"datum.g==9"},{"fold":["lo","hi"],"as":["s","v"]}],"mark":{"type":"line","clip":true,"color":"#DF536B","strokeWidth":1,"strokeDash":[2,2],"interpolate":"monotone","opacity":0.75},"encoding":{"detail":{"field":"s","type":"nominal"}}},{"data":{"name":"fit"},"transform":[{"filter":"datum.g==9"}],"mark":{"type":"rule","clip":true,"color":"#DF536B","strokeWidth":1.2},"encoding":{"x2":{"field":"p2"},"y2":{"field":"v2"}}}]},
{"width":127,"height":125,"title":"Chugoku","encoding":{"x":{"field":"p","type":"quantitative","scale":{"domain":[-0.04,1.04],"nice":false,"zero":false},"axis":{"values":[0,0.2,0.4,0.6,0.8,1],"labelExpr":"datum.value==0||datum.value==0.4||datum.value==0.8?format(datum.value,'.1f'):''","title":null}},"y":{"field":"v","type":"quantitative","scale":{"domain":[0.122,0.3411],"nice":false,"zero":false},"axis":{"values":[0.15,0.2,0.25,0.3],"labelExpr":"indexof([0.15,0.25],datum.value)>=0?format(datum.value,'.2f'):''","title":null}}},
"layer":[{"data":{"name":"pts"},"transform":[{"filter":"datum.g==10"}],"mark":{"type":"circle","size":10,"color":"#2297E6","opacity":1}},{"data":{"name":"band"},"transform":[{"filter":"datum.g==10"},{"fold":["lo","hi"],"as":["s","v"]}],"mark":{"type":"line","clip":true,"color":"#DF536B","strokeWidth":1,"strokeDash":[2,2],"interpolate":"monotone","opacity":0.75},"encoding":{"detail":{"field":"s","type":"nominal"}}},{"data":{"name":"fit"},"transform":[{"filter":"datum.g==10"}],"mark":{"type":"rule","clip":true,"color":"#DF536B","strokeWidth":1.2},"encoding":{"x2":{"field":"p2"},"y2":{"field":"v2"}}}]},
{"width":127,"height":125,"title":"Shikoku","encoding":{"x":{"field":"p","type":"quantitative","scale":{"domain":[-0.04,1.04],"nice":false,"zero":false},"axis":{"values":[0,0.2,0.4,0.6,0.8,1],"labelExpr":"datum.value==0||datum.value==0.4||datum.value==0.8?format(datum.value,'.1f'):''","title":null}},"y":{"field":"v","type":"quantitative","scale":{"domain":[0.2154,0.36],"nice":false,"zero":false},"axis":{"values":[0.22,0.24,0.26,0.28,0.3,0.32,0.34],"labelExpr":"indexof([0.22,0.26,0.3,0.34],datum.value)>=0?format(datum.value,'.2f'):''","title":null}}},
"layer":[{"data":{"name":"pts"},"transform":[{"filter":"datum.g==11"}],"mark":{"type":"circle","size":10,"color":"#2297E6","opacity":1}},{"data":{"name":"band"},"transform":[{"filter":"datum.g==11"},{"fold":["lo","hi"],"as":["s","v"]}],"mark":{"type":"line","clip":true,"color":"#DF536B","strokeWidth":1,"strokeDash":[2,2],"interpolate":"monotone","opacity":0.75},"encoding":{"detail":{"field":"s","type":"nominal"}}},{"data":{"name":"fit"},"transform":[{"filter":"datum.g==11"}],"mark":{"type":"rule","clip":true,"color":"#DF536B","strokeWidth":1.2},"encoding":{"x2":{"field":"p2"},"y2":{"field":"v2"}}}]},
{"width":127,"height":125,"title":"Kyushu","encoding":{"x":{"field":"p","type":"quantitative","scale":{"domain":[-0.04,1.04],"nice":false,"zero":false},"axis":{"values":[0,0.2,0.4,0.6,0.8,1],"labelExpr":"datum.value==0||datum.value==0.4||datum.value==0.8?format(datum.value,'.1f'):''","title":null}},"y":{"field":"v","type":"quantitative","scale":{"domain":[-0.0076,0.198],"nice":false,"zero":false},"axis":{"values":[0,0.05,0.1,0.15],"labelExpr":"format(datum.value,'.2f')","title":null}}},
"layer":[{"data":{"name":"pts"},"transform":[{"filter":"datum.g==12"}],"mark":{"type":"circle","size":10,"color":"#2297E6","opacity":1}},{"data":{"name":"band"},"transform":[{"filter":"datum.g==12"},{"fold":["lo","hi"],"as":["s","v"]}],"mark":{"type":"line","clip":true,"color":"#DF536B","strokeWidth":1,"strokeDash":[2,2],"interpolate":"monotone","opacity":0.75},"encoding":{"detail":{"field":"s","type":"nominal"}}},{"data":{"name":"fit"},"transform":[{"filter":"datum.g==12"}],"mark":{"type":"rule","clip":true,"color":"#DF536B","strokeWidth":1.2},"encoding":{"x2":{"field":"p2"},"y2":{"field":"v2"}}}]}
]},
{"spacing":56,"hconcat":[
{"width":127,"height":125,"encoding":{"x":{"field":"p","type":"quantitative","scale":{"domain":[-0.04,1.04],"nice":false,"zero":false},"axis":{"values":[0,0.2,0.4,0.6,0.8,1],"labelExpr":"datum.value==0||datum.value==0.4||datum.value==0.8?format(datum.value,'.1f'):''","title":null}},"y":{"field":"v","type":"quantitative","scale":{"domain":[0.3129,0.4511],"nice":false,"zero":false},"axis":{"values":[0.34,0.36,0.38,0.4,0.42,0.44],"labelExpr":"indexof([0.34,0.38,0.42],datum.value)>=0?format(datum.value,'.2f'):''","title":"longitude"}}},
"layer":[{"data":{"name":"pts"},"transform":[{"filter":"datum.g==13"}],"mark":{"type":"circle","size":10,"color":"#2297E6","opacity":1}},{"data":{"name":"band"},"transform":[{"filter":"datum.g==13"},{"fold":["lo","hi"],"as":["s","v"]}],"mark":{"type":"line","clip":true,"color":"#DF536B","strokeWidth":1,"strokeDash":[2,2],"interpolate":"monotone","opacity":0.75},"encoding":{"detail":{"field":"s","type":"nominal"}}},{"data":{"name":"fit"},"transform":[{"filter":"datum.g==13"}],"mark":{"type":"rule","clip":true,"color":"#DF536B","strokeWidth":1.2},"encoding":{"x2":{"field":"p2"},"y2":{"field":"v2"}}}]},
{"width":127,"height":125,"encoding":{"x":{"field":"p","type":"quantitative","scale":{"domain":[-0.04,1.04],"nice":false,"zero":false},"axis":{"values":[0,0.2,0.4,0.6,0.8,1],"labelExpr":"datum.value==0||datum.value==0.4||datum.value==0.8?format(datum.value,'.1f'):''","title":null}},"y":{"field":"v","type":"quantitative","scale":{"domain":[0.352,0.487],"nice":false,"zero":false},"axis":{"values":[0.36,0.38,0.4,0.42,0.44,0.46,0.48],"labelExpr":"indexof([0.36,0.4,0.44,0.48],datum.value)>=0?format(datum.value,'.2f'):''","title":null}}},
"layer":[{"data":{"name":"pts"},"transform":[{"filter":"datum.g==14"}],"mark":{"type":"circle","size":10,"color":"#2297E6","opacity":1}},{"data":{"name":"band"},"transform":[{"filter":"datum.g==14"},{"fold":["lo","hi"],"as":["s","v"]}],"mark":{"type":"line","clip":true,"color":"#DF536B","strokeWidth":1,"strokeDash":[2,2],"interpolate":"monotone","opacity":0.75},"encoding":{"detail":{"field":"s","type":"nominal"}}},{"data":{"name":"fit"},"transform":[{"filter":"datum.g==14"}],"mark":{"type":"rule","clip":true,"color":"#DF536B","strokeWidth":1.2},"encoding":{"x2":{"field":"p2"},"y2":{"field":"v2"}}}]},
{"width":127,"height":125,"encoding":{"x":{"field":"p","type":"quantitative","scale":{"domain":[-0.04,1.04],"nice":false,"zero":false},"axis":{"values":[0,0.2,0.4,0.6,0.8,1],"labelExpr":"datum.value==0||datum.value==0.4||datum.value==0.8?format(datum.value,'.1f'):''","title":null}},"y":{"field":"v","type":"quantitative","scale":{"domain":[0.2849,0.3961],"nice":false,"zero":false},"axis":{"values":[0.3,0.32,0.34,0.36,0.38],"labelExpr":"indexof([0.3,0.34,0.38],datum.value)>=0?format(datum.value,'.2f'):''","title":null}}},
"layer":[{"data":{"name":"pts"},"transform":[{"filter":"datum.g==15"}],"mark":{"type":"circle","size":10,"color":"#2297E6","opacity":1}},{"data":{"name":"band"},"transform":[{"filter":"datum.g==15"},{"fold":["lo","hi"],"as":["s","v"]}],"mark":{"type":"line","clip":true,"color":"#DF536B","strokeWidth":1,"strokeDash":[2,2],"interpolate":"monotone","opacity":0.75},"encoding":{"detail":{"field":"s","type":"nominal"}}},{"data":{"name":"fit"},"transform":[{"filter":"datum.g==15"}],"mark":{"type":"rule","clip":true,"color":"#DF536B","strokeWidth":1.2},"encoding":{"x2":{"field":"p2"},"y2":{"field":"v2"}}}]},
{"width":127,"height":125,"encoding":{"x":{"field":"p","type":"quantitative","scale":{"domain":[-0.04,1.04],"nice":false,"zero":false},"axis":{"values":[0,0.2,0.4,0.6,0.8,1],"labelExpr":"datum.value==0||datum.value==0.4||datum.value==0.8?format(datum.value,'.1f'):''","title":null}},"y":{"field":"v","type":"quantitative","scale":{"domain":[-0.0138,0.3588],"nice":false,"zero":false},"axis":{"values":[0,0.1,0.2,0.3],"labelExpr":"format(datum.value,'.1f')","title":null}}},
"layer":[{"data":{"name":"pts"},"transform":[{"filter":"datum.g==16"}],"mark":{"type":"circle","size":10,"color":"#2297E6","opacity":1}},{"data":{"name":"band"},"transform":[{"filter":"datum.g==16"},{"fold":["lo","hi"],"as":["s","v"]}],"mark":{"type":"line","clip":true,"color":"#DF536B","strokeWidth":1,"strokeDash":[2,2],"interpolate":"monotone","opacity":0.75},"encoding":{"detail":{"field":"s","type":"nominal"}}},{"data":{"name":"fit"},"transform":[{"filter":"datum.g==16"}],"mark":{"type":"rule","clip":true,"color":"#DF536B","strokeWidth":1.2},"encoding":{"x2":{"field":"p2"},"y2":{"field":"v2"}}}]}
]}
]}
],
"config":{
"font":"Liberation Sans",
"view":{"stroke":"#000000","strokeWidth":1},
"axis":{"grid":false,"domain":false,"ticks":true,"tickColor":"#000000","tickSize":5,"tickWidth":1,"labelFont":"Liberation Sans","labelFontSize":11,"labelColor":"#000000","labelOverlap":false,"labelFlush":false,"titleFont":"Liberation Sans","titleFontSize":11,"titleFontWeight":"normal","titleColor":"#000000"},
"axisX":{"labelPadding":7,"labelAngle":0},
"axisY":{"labelAngle":270,"labelAlign":"center","labelBaseline":"bottom","labelPadding":6,"titlePadding":13},
"title":{"font":"Liberation Sans","fontSize":13,"fontWeight":"bold","color":"#000000","offset":11,"frame":"group","anchor":"middle"}
}
}
